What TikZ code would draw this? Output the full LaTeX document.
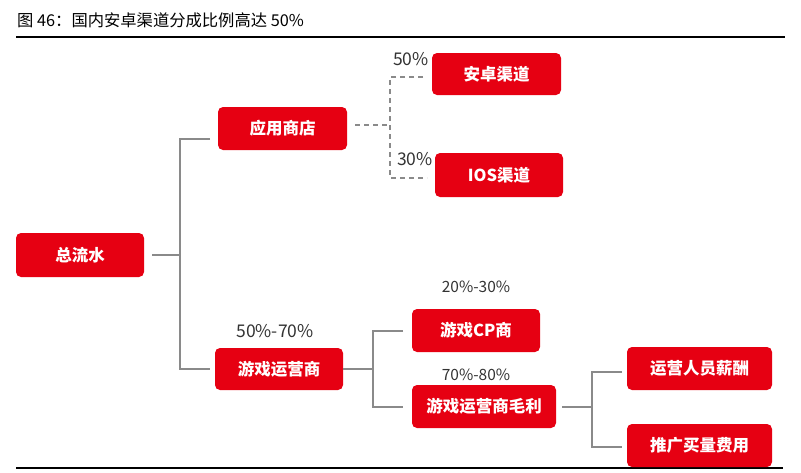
\documentclass[tikz,border=0pt]{standalone}
\usepackage{fontspec}
\setmainfont{Noto Sans CJK SC}
\definecolor{boxred}{HTML}{E60012}
\definecolor{linegray}{HTML}{8A8A8A}
\definecolor{labelgray}{HTML}{333333}
\tikzset{
  redbox/.style={rectangle, rounded corners=5pt, fill=boxred, text=white, inner sep=0pt,
    font=\fontsize{16.5}{19}\selectfont\bfseries},
  conn/.style={draw=linegray, line width=1.6pt},
  dconn/.style={draw=linegray, line width=1.6pt, dash pattern=on 5pt off 4pt},
  pct/.style={text=labelgray, inner sep=0pt, font=\fontsize{17.5}{20}\selectfont},
  pcts/.style={text=labelgray, inner sep=0pt, font=\fontsize{15.5}{18}\selectfont},
  rule/.style={draw=black, line width=1.2pt}
}
\begin{document}
\begin{tikzpicture}[x=1pt,y=-1pt]
\useasboundingbox (0,0) rectangle (801,472);
% title and rules
\node[anchor=west, inner sep=0pt, font=\fontsize{16.3}{19}\selectfont, text=black] (title) at (17,20) {图 46：国内安卓渠道分成比例高达 50\%};
\coordinate (rtl) at (16,37); \coordinate (rtr) at (785,37);
\coordinate (rbl) at (16,468); \coordinate (rbr) at (783,468);
\draw[rule] (rtl) -- (rtr);
\draw[rule] (rbl) -- (rbr);
% boxes
\node[redbox, minimum width=128pt, minimum height=44pt] (total) at (80,255) {总流水};
\node[redbox, minimum width=129pt, minimum height=43pt] (app) at (282.5,128.5) {应用商店};
\node[redbox, minimum width=129pt, minimum height=42pt] (android) at (496.5,74) {安卓渠道};
\node[redbox, minimum width=128pt, minimum height=44pt] (ios) at (499,175) {IOS渠道};
\node[redbox, minimum width=128pt, minimum height=42pt] (op) at (279,369) {游戏运营商};
\node[redbox, minimum width=128pt, minimum height=43pt] (cp) at (476,330.5) {游戏CP商};
\node[redbox, minimum width=144pt, minimum height=43pt] (margin) at (484,406.5) {游戏运营商毛利};
\node[redbox, minimum width=145pt, minimum height=43pt] (staff) at (699.5,368.5) {运营人员薪酬};
\node[redbox, minimum width=145pt, minimum height=43pt] (ads) at (699.5,445.5) {推广买量费用};
% labels
\node[pct] (l50) at (411,59) {50\%};
\node[pct] (l30) at (415,159) {30\%};
\node[pct] (l5070) at (275,331) {50\%-70\%};
\node[pcts] (l2030) at (476,287) {20\%-30\%};
\node[pcts] (l7080) at (476,375) {70\%-80\%};
% connector coordinates
\coordinate (totalout) at (152,255); \coordinate (j1) at (180,255);
\coordinate (appin) at (210,139); \coordinate (opin) at (210,369);
\coordinate (appout) at (355,125); \coordinate (j2) at (390,125);
\coordinate (andin) at (423,77); \coordinate (iosin) at (427,178);
\coordinate (opout) at (343,369); \coordinate (j3) at (373,369);
\coordinate (cpin) at (403,331); \coordinate (marin) at (403,407);
\coordinate (marout) at (562,407); \coordinate (j4) at (592,407);
\coordinate (staffin) at (622,372); \coordinate (adsin) at (622,447);
% connectors
\draw[conn] (totalout) -- (j1);
\draw[conn] (appin) -| (j1 |- opin) -- (opin);
\draw[dconn] (appout) -- (j2);
\draw[dconn] (andin) -| (j2 |- iosin) -- (iosin);
\draw[conn] (opout) -- (j3);
\draw[conn] (cpin) -| (j3 |- marin) -- (marin);
\draw[conn] (marout) -- (j4);
\draw[conn] (staffin) -| (j4 |- adsin) -- (adsin);
\end{tikzpicture}
\end{document}
